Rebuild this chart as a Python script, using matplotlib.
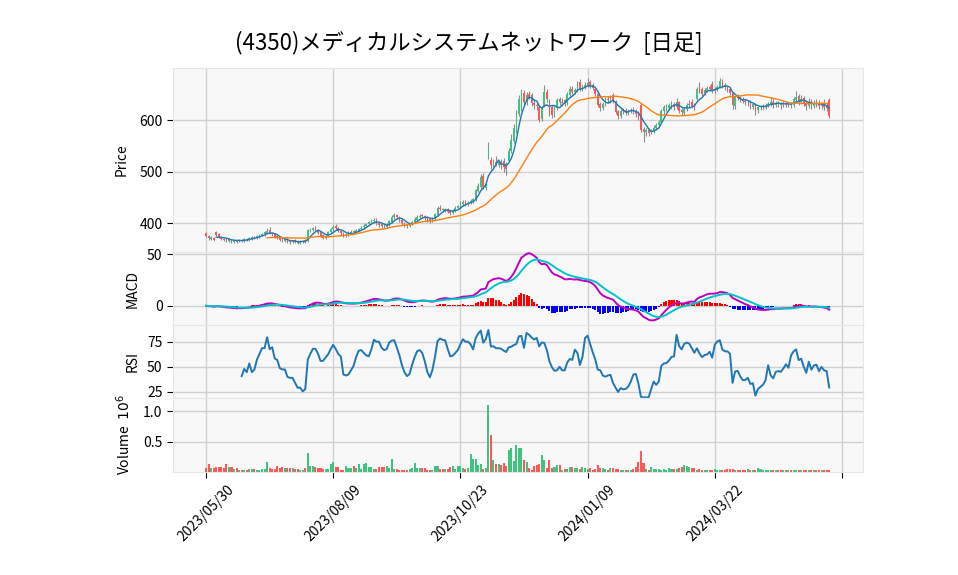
import matplotlib
matplotlib.use('Agg')
import matplotlib.pyplot as plt
import numpy as np
import pandas as pd

plt.rcParams['font.family'] = ['Noto Sans CJK JP', 'DejaVu Sans']

title = '(4350)メディカルシステムネットワーク  [日足]'
tick_pos = [0, 50, 100, 150, 200, 250]
tick_labels = ['2023/05/30', '2023/08/09', '2023/10/23', '2024/01/09', '2024/03/22', '']

# daily prices (yen)
opens = [380, 375, 370, 372, 382, 378, 373, 370, 369, 366,
         368, 364, 367, 365, 368, 366, 370, 368, 370, 374,
         372, 374, 377, 378, 381, 386, 381, 378, 375, 372,
         369, 366, 369, 366, 363, 367, 365, 362, 364, 367,
         366, 385, 387, 391, 386, 382, 377, 371, 375, 382,
         388, 395, 390, 385, 381, 376, 378, 380, 384, 382,
         385, 388, 392, 394, 399, 401, 404, 407, 401, 398,
         395, 393, 397, 403, 411, 416, 412, 407, 401, 397,
         394, 398, 402, 407, 411, 415, 414, 411, 408, 404,
         408, 416, 430, 427, 424, 427, 423, 419, 424, 429,
         433, 437, 442, 437, 439, 442, 445, 463, 470, 492,
         469, 528, 522, 512, 519, 513, 519, 521, 514, 520,
         540, 560, 580, 612, 622, 652, 635, 650, 648, 634,
         630, 626, 602, 628, 654, 636, 626, 612, 625, 640,
         634, 638, 634, 648, 661, 654, 658, 673, 662, 663,
         667, 673, 668, 661, 650, 632, 624, 631, 641, 637,
         648, 636, 617, 608, 617, 620, 614, 617, 621, 618,
         613, 630, 582, 576, 580, 576, 578, 584, 590, 597,
         617, 623, 624, 626, 631, 626, 635, 620, 614, 622,
         630, 636, 630, 640, 667, 660, 652, 658, 664, 670,
         656, 660, 664, 675, 668, 665, 660, 652, 628, 646,
         644, 640, 637, 635, 636, 626, 632, 620, 625, 627,
         628, 630, 632, 636, 629, 634, 632, 629, 634, 630,
         632, 630, 638, 646, 636, 642, 634, 628, 636, 628,
         635, 634, 628, 632, 630, 638]
highs = [383, 377, 375, 374, 384, 380, 375, 372, 370, 371,
         370, 369, 369, 370, 370, 371, 372, 373, 375, 376,
         377, 379, 381, 384, 390, 392, 383, 380, 377, 373,
         371, 371, 371, 368, 368, 369, 367, 367, 368, 369,
         388, 391, 393, 394, 388, 383, 379, 377, 384, 391,
         397, 398, 392, 387, 383, 380, 384, 386, 386, 388,
         391, 394, 398, 401, 405, 408, 410, 409, 403, 400,
         398, 400, 407, 416, 420, 418, 414, 409, 403, 399,
         401, 405, 411, 415, 417, 418, 416, 413, 410, 411,
         420, 433, 435, 430, 430, 429, 425, 427, 433, 436,
         442, 445, 445, 443, 446, 449, 467, 477, 495, 497,
         480, 558, 528, 525, 530, 522, 524, 526, 519, 545,
         572, 592, 620, 648, 660, 658, 655, 657, 652, 640,
         636, 630, 628, 668, 660, 640, 630, 628, 642, 645,
         642, 641, 654, 666, 667, 662, 676, 680, 668, 674,
         682, 678, 672, 663, 654, 636, 636, 644, 646, 648,
         652, 638, 620, 622, 624, 624, 622, 624, 625, 622,
         618, 633, 586, 585, 584, 583, 590, 594, 600, 622,
         630, 632, 634, 637, 636, 642, 637, 624, 626, 634,
         638, 640, 634, 664, 673, 664, 662, 666, 668, 675,
         664, 668, 682, 679, 672, 668, 663, 655, 647, 650,
         648, 644, 641, 638, 639, 632, 634, 624, 629, 632,
         633, 636, 645, 640, 637, 637, 635, 637, 637, 636,
         636, 644, 657, 650, 648, 646, 638, 642, 640, 638,
         640, 638, 636, 640, 636, 642]
lows = [373, 368, 368, 366, 375, 372, 368, 365, 364, 364,
        362, 362, 361, 363, 364, 364, 366, 366, 368, 370,
        370, 372, 375, 376, 379, 378, 375, 372, 369, 365,
        363, 364, 362, 359, 361, 361, 359, 360, 362, 361,
        364, 383, 385, 384, 378, 373, 369, 369, 373, 380,
        385, 387, 382, 377, 374, 374, 376, 378, 379, 380,
        383, 386, 389, 392, 396, 399, 401, 397, 393, 390,
        390, 391, 395, 401, 408, 408, 403, 397, 393, 391,
        392, 396, 400, 405, 408, 409, 407, 403, 401, 402,
        406, 414, 424, 421, 422, 419, 416, 417, 422, 427,
        430, 434, 434, 434, 437, 440, 443, 460, 467, 466,
        465, 525, 506, 508, 510, 508, 506, 500, 494, 518,
        536, 555, 575, 608, 618, 630, 630, 640, 628, 622,
        620, 596, 598, 625, 635, 608, 604, 606, 620, 630,
        628, 628, 630, 644, 650, 650, 655, 656, 656, 660,
        664, 662, 658, 646, 626, 618, 620, 627, 634, 634,
        634, 612, 602, 604, 612, 610, 610, 613, 612, 606,
        600, 576, 558, 570, 570, 572, 575, 580, 585, 594,
        612, 618, 620, 621, 620, 622, 614, 610, 610, 618,
        626, 624, 620, 638, 652, 646, 648, 654, 656, 652,
        652, 656, 662, 662, 658, 655, 649, 622, 622, 638,
        635, 633, 630, 628, 622, 622, 610, 614, 620, 622,
        622, 625, 628, 624, 625, 626, 622, 625, 626, 625,
        624, 626, 634, 630, 632, 628, 620, 624, 622, 624,
        626, 622, 622, 620, 618, 604]
closes = [375, 371, 373, 368, 377, 374, 370, 368, 366, 369,
          365, 367, 364, 368, 366, 369, 368, 371, 373, 372,
          375, 377, 379, 382, 385, 380, 378, 374, 371, 368,
          366, 369, 365, 363, 366, 364, 362, 365, 366, 364,
          386, 388, 390, 387, 381, 376, 372, 374, 382, 388,
          393, 390, 385, 380, 377, 378, 381, 383, 382, 386,
          388, 391, 395, 398, 402, 405, 406, 400, 397, 394,
          394, 397, 404, 412, 415, 411, 407, 400, 396, 395,
          398, 402, 408, 412, 414, 413, 410, 407, 405, 408,
          417, 429, 427, 425, 427, 422, 419, 424, 430, 433,
          438, 441, 437, 440, 443, 446, 464, 472, 489, 470,
          476, 550, 512, 518, 514, 518, 512, 508, 505, 540,
          562, 585, 612, 640, 652, 636, 648, 645, 634, 630,
          628, 600, 625, 655, 640, 612, 610, 624, 638, 636,
          636, 632, 650, 660, 655, 658, 668, 660, 664, 668,
          672, 666, 662, 650, 630, 624, 632, 640, 638, 642,
          638, 615, 608, 618, 620, 616, 618, 620, 617, 612,
          604, 580, 576, 580, 575, 578, 584, 590, 596, 618,
          625, 628, 630, 632, 625, 636, 618, 615, 622, 630,
          632, 628, 624, 660, 655, 650, 658, 662, 660, 656,
          660, 664, 676, 666, 664, 660, 652, 630, 645, 642,
          640, 637, 635, 636, 627, 632, 620, 625, 627, 628,
          630, 632, 636, 629, 634, 632, 629, 634, 630, 631,
          630, 640, 645, 636, 640, 632, 628, 636, 630, 634,
          632, 628, 630, 626, 624, 608]
# volume, thousand shares
volume_k = [70, 130, 60, 60, 90, 80, 75, 70, 130, 80,
            75, 50, 65, 35, 30, 30, 35, 45, 55, 50,
            35, 40, 45, 45, 170, 60, 55, 50, 95, 70,
            80, 65, 60, 65, 60, 55, 50, 30, 30, 70,
            310, 95, 95, 90, 70, 60, 45, 55, 55, 130,
            170, 85, 80, 40, 35, 95, 65, 65, 100, 70,
            130, 55, 130, 150, 80, 80, 55, 55, 80, 90,
            80, 95, 65, 210, 45, 45, 40, 40, 30, 40,
            45, 60, 150, 70, 60, 60, 70, 35, 35, 40,
            100, 100, 55, 55, 55, 50, 90, 95, 45, 100,
            100, 60, 55, 60, 300, 210, 210, 110, 140, 55,
            60, 1100, 610, 200, 130, 130, 110, 150, 100, 360,
            400, 180, 450, 400, 390, 200, 160, 70, 40, 100,
            110, 130, 280, 200, 65, 200, 65, 90, 110, 110,
            35, 50, 50, 75, 85, 70, 60, 55, 75, 60,
            50, 60, 40, 50, 110, 65, 60, 45, 40, 60,
            60, 55, 50, 35, 30, 35, 35, 35, 50, 80,
            160, 350, 150, 50, 35, 90, 50, 50, 45, 30,
            50, 30, 60, 50, 50, 50, 60, 90, 110, 100,
            80, 70, 65, 40, 50, 35, 35, 40, 30, 40,
            50, 40, 35, 30, 40, 55, 50, 50, 40, 35,
            30, 35, 35, 50, 30, 35, 30, 70, 50, 35,
            30, 30, 30, 30, 30, 25, 30, 30, 25, 30,
            30, 40, 35, 30, 30, 30, 35, 25, 40, 30,
            30, 25, 30, 25, 30, 25]

UP = '#3fc380'
DOWN = '#ff5757'
BG = '#f8f8f8'
GRID = '#d0d0d0'

df = pd.DataFrame({'open': opens, 'high': highs, 'low': lows,
                   'close': closes, 'vol': volume_k})
x = np.arange(len(df))
up = df['close'] >= df['open']
colors = np.where(up, UP, DOWN)

ma5 = df['close'].rolling(5).mean()
ma25 = df['close'].rolling(25).mean()

ema12 = df['close'].ewm(span=12, adjust=False).mean()
ema26 = df['close'].ewm(span=26, adjust=False).mean()
macd = ema12 - ema26
signal = macd.ewm(span=9, adjust=False).mean()
hist = macd - signal

diff = df['close'].diff()
gain = diff.clip(lower=0).rolling(14).mean()
loss = (-diff.clip(upper=0)).rolling(14).mean()
rsi = 100 - 100 / (1 + gain / loss)

fig = plt.figure(figsize=(9.58, 5.75), dpi=100)
L, W = 173 / 958, 690 / 958


def panel(top, bottom):
    ax = fig.add_axes([L, 1 - bottom / 575, W, (bottom - top) / 575])
    ax.set_facecolor(BG)
    for s in ax.spines.values():
        s.set_color('#e6e6e6')
    ax.set_axisbelow(True)
    ax.grid(True, color=GRID, lw=1)
    ax.set_xlim(-13, 258.3)
    ax.set_xticks(tick_pos)
    ax.tick_params(axis='y', labelsize=10, length=4)
    return ax


ax1 = panel(68, 252)
ax2 = panel(252, 325)
ax3 = panel(325, 398)
ax4 = panel(398, 472)

# candles
ax1.vlines(x, df['low'], df['high'], color='#8c8c8c', lw=0.8, zorder=2)
body = (df['close'] - df['open']).abs().clip(lower=0.6)
ax1.bar(x, body, bottom=df[['open', 'close']].min(axis=1), width=0.65,
        color=colors, zorder=3)
ax1.plot(x, ma5, color='#1f77b4', lw=1.0, zorder=4)
ax1.plot(x, ma25, color='#ff7f0e', lw=1.0, zorder=4)
ax1.set_ylim(344, 701)
ax1.set_yticks([400, 500, 600])
ax1.set_ylabel('Price', fontsize=10)

# MACD
ax2.bar(x, hist, width=0.8, color=np.where(hist >= 0, '#ff0000', '#0000ff'), zorder=2)
ax2.plot(x, macd, color='#c000c0', lw=1.4, zorder=3)
ax2.plot(x, signal, color='#00c4c8', lw=1.4, zorder=3)
ax2.set_ylim(-18.5, 52)
ax2.set_yticks([0, 50])
ax2.set_ylabel('MACD', fontsize=10)

# RSI
ax3.plot(x, rsi, color='#1f77b4', lw=1.4)
ax3.set_ylim(19, 91.6)
ax3.set_yticks([25, 50, 75])
ax3.set_ylabel('RSI', fontsize=10)

# volume
ax4.bar(x, df['vol'] / 1000, width=0.8, color=colors)
ax4.set_ylim(0, 1.22)
ax4.set_yticks([0.5, 1.0])
ax4.set_yticklabels(['0.5', '1.0'])
ax4.set_ylabel('Volume  $10^{6}$', fontsize=10)

for ax in (ax1, ax2, ax3):
    ax.tick_params(axis='x', bottom=False, labelbottom=False)
ax4.set_xticklabels(tick_labels, rotation=45, fontsize=10)
ax4.tick_params(axis='x', length=4)

# label positions (right edge of each rotated label)
ax1.yaxis.set_label_coords(-0.064, 0.5)
ax2.yaxis.set_label_coords(-0.049, 0.5)
ax3.yaxis.set_label_coords(-0.049, 0.5)
ax4.yaxis.set_label_coords(-0.058, 0.5)

fig.text(469 / 958, 1 - 43 / 575, title, ha='center', va='center', fontsize=16)

fig.savefig('out.png', dpi=100)
